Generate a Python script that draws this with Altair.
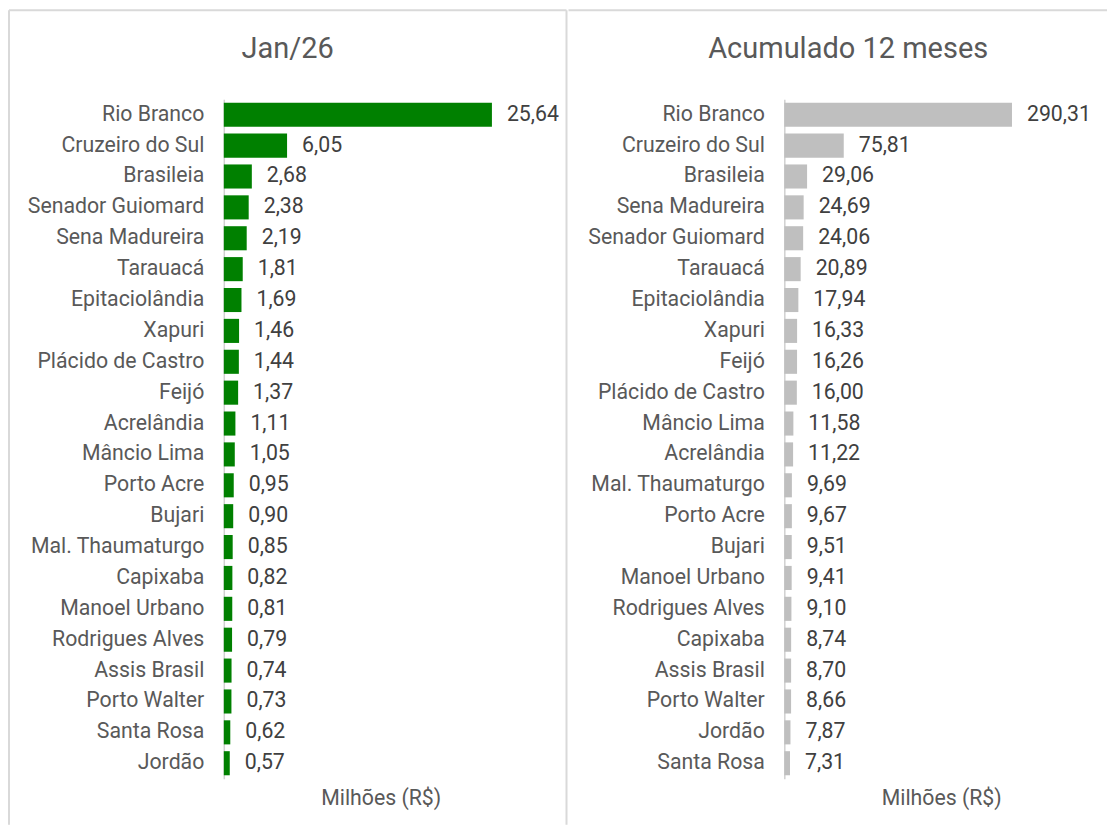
import altair as alt
import pandas as pd

# Jan/26
mun_jan = ["Rio Branco", "Cruzeiro do Sul", "Brasileia", "Senador Guiomard", "Sena Madureira",
           "Tarauacá", "Epitaciolândia", "Xapuri", "Plácido de Castro", "Feijó", "Acrelândia",
           "Mâncio Lima", "Porto Acre", "Bujari", "Mal. Thaumaturgo", "Capixaba", "Manoel Urbano",
           "Rodrigues Alves", "Assis Brasil", "Porto Walter", "Santa Rosa", "Jordão"]
val_jan = [25.64, 6.05, 2.68, 2.38, 2.19, 1.81, 1.69, 1.46, 1.44, 1.37, 1.11,
           1.05, 0.95, 0.90, 0.85, 0.82, 0.81, 0.79, 0.74, 0.73, 0.62, 0.57]

# Acumulado 12 meses
mun_acc = ["Rio Branco", "Cruzeiro do Sul", "Brasileia", "Sena Madureira", "Senador Guiomard",
           "Tarauacá", "Epitaciolândia", "Xapuri", "Feijó", "Plácido de Castro", "Mâncio Lima",
           "Acrelândia", "Mal. Thaumaturgo", "Porto Acre", "Bujari", "Manoel Urbano",
           "Rodrigues Alves", "Capixaba", "Assis Brasil", "Porto Walter", "Jordão", "Santa Rosa"]
val_acc = [290.31, 75.81, 29.06, 24.69, 24.06, 20.89, 17.94, 16.33, 16.26, 16.00, 11.58,
           11.22, 9.69, 9.67, 9.51, 9.41, 9.10, 8.74, 8.70, 8.66, 7.87, 7.31]

titles = ["Jan/26", "Acumulado 12 meses"]
axis_title = "Milhões (R$)"

FONT = "Roboto"
TXT = "#595959"
BORDER = "#d9d9d9"
W, H = 314, 680
FS = 21.3


def panel(names, values, color, xmax, title, title_x, borders):
    df = pd.DataFrame({"m": names, "v": values})
    base = alt.Chart(df)
    y = alt.Y("m:N", sort=names, title=None,
              scale=alt.Scale(paddingInner=0.22, paddingOuter=0.11),
              axis=alt.Axis(ticks=False, domainColor="#d0d0d0", domainWidth=1.5,
                            labelPadding=20, labelFontSize=FS, labelColor=TXT,
                            labelFont=FONT, minExtent=216, maxExtent=216))
    x = alt.X("v:Q", scale=alt.Scale(domain=[0, xmax], nice=False, zero=True),
              axis=alt.Axis(labels=False, ticks=False, domain=False, grid=False,
                            title=axis_title, titleFont=FONT, titleFontSize=FS,
                            titleFontWeight="normal", titleColor=TXT, titlePadding=9))
    bars = base.mark_bar(color=color).encode(x=x, y=y)
    text = base.transform_calculate(
        lab="replace(format(datum.v, '.2f'), '.', ',')"
    ).mark_text(align="left", baseline="middle", dx=15, fontSize=FS,
                font=FONT, color="#404040").encode(x="v:Q", y=alt.Y("m:N", sort=names), text="lab:N")
    one = alt.Data(values=[{"t": title}])
    ttl = alt.Chart(one).mark_text(align="center", baseline="middle", fontSize=29,
                                   font=FONT, color=TXT).encode(
        x=alt.value(title_x), y=alt.value(-50), text="t:N")
    layers = [bars, text, ttl]
    for (x1, x2, y1, y2) in borders:
        enc = dict(x=alt.value(x1), y=alt.value(y1))
        if x2 is not None:
            enc["x2"] = alt.value(x2)
        if y2 is not None:
            enc["y2"] = alt.value(y2)
        layers.append(alt.Chart(one).mark_rule(color=BORDER, strokeWidth=2).encode(**enc))
    return alt.layer(*layers).properties(width=W, height=H)


left = panel(mun_jan, val_jan, "#008000", 30, titles[0], 64,
             [(-215, None, -89, 726),      # left border
              (-215, 343, -89, None),      # top border
              (343, None, -89, 726)])      # separator
right = panel(mun_acc, val_acc, "#bfbfbf", 400, titles[1], 64,
              [(-216, 323, -89, None)])    # top border

chart = alt.hconcat(left, right, spacing=0).properties(
    padding={"left": 0, "top": 1, "right": 0, "bottom": 0},
    background="white"
).configure_view(stroke="transparent", strokeWidth=0)

chart.save("out.html", embed_options={"renderer": "svg", "actions": False})
